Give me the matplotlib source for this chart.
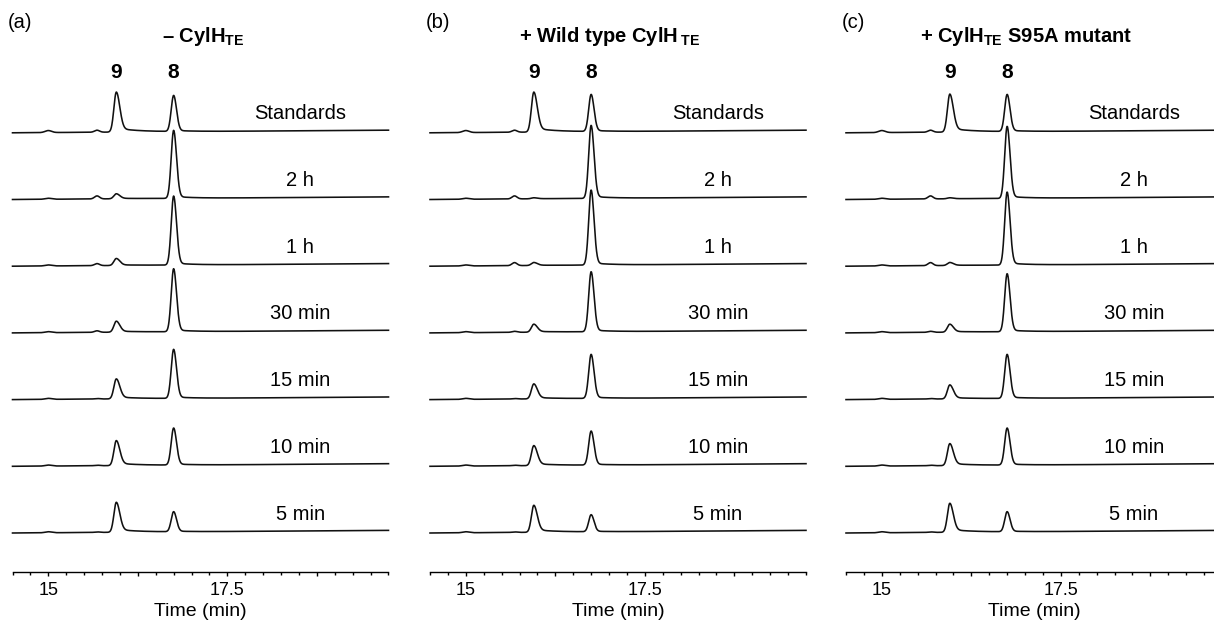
import numpy as np
import matplotlib
matplotlib.use('Agg')
from matplotlib import pyplot as plt
from matplotlib import ticker

plt.rcParams['font.family'] = ['Liberation Sans', 'DejaVu Sans']
plt.rcParams['mathtext.fontset'] = 'custom'
plt.rcParams['mathtext.rm'] = 'Liberation Sans'
plt.rcParams['mathtext.bf'] = 'Liberation Sans:bold'

# trace labels, top to bottom
trace_labels = ['Standards', '2 h', '1 h', '30 min', '15 min', '10 min', '5 min']
panel_tags = ['(a)', '(b)', '(c)']
panel_titles = [r'– CylH$_{\mathbf{TE}}$',
                r'+ Wild type CylH$\,_{\mathbf{TE}}$',
                r'+ CylH$_{\mathbf{TE}}$ S95A mutant']

# retention times (min)
rt_9 = 15.95
rt_8 = 16.75
rt_minor_a = 15.0
rt_minor_b = 15.68

# peak heights (arbitrary units), top trace first
height_9 = [
    [40, 5, 7, 11, 20, 25, 30],
    [40, 1, 3, 8, 15, 20, 27],
    [38, 1, 3, 8, 14, 22, 29],
]
height_8 = [
    [36, 68, 69, 63, 49, 37, 20],
    [37, 73, 75, 60, 44, 34, 17],
    [37, 72, 73, 58, 44, 37, 20],
]
height_minor_a = [
    [2, 1, 1, 1, 1, 1, 1],
    [2, 1, 1, 1, 1, 1, 1],
    [2, 1, 1, 1, 1, 1, 1],
]
height_minor_b = [
    [2, 3, 2, 1.5, 0.5, 0.5, 0.5],
    [2, 3, 3, 1, 0.5, 0.5, 0.5],
    [2, 3, 3, 1, 0.5, 0.5, 0.5],
]

x_min, x_max = 14.5, 19.75


def peak(x, t, h, s_left, s_right, tail_frac, tau):
    """
    Asymmetric chromatographic peak with a small exponential tail.
    """
    d = x - t
    left = np.exp(-0.5 * (d / s_left) ** 2)
    right = ((1 - tail_frac) * np.exp(-0.5 * (d / s_right) ** 2)
             + tail_frac * np.exp(-np.clip(d, 0, None) / tau))
    return h * np.where(d < 0, left, right)


def build_trace(x, p, i):
    y = peak(x, rt_9, height_9[p][i], 0.034, 0.048, 0.1, 0.3)
    y += peak(x, rt_8, height_8[p][i], 0.034, 0.04, 0.03, 0.25)
    y += peak(x, rt_minor_a, height_minor_a[p][i], 0.045, 0.045, 0.0, 1.0)
    y += peak(x, rt_minor_b, height_minor_b[p][i], 0.035, 0.035, 0.0, 1.0)
    y += 0.5 * (x - x_min)
    return y


fig = plt.figure(figsize=(12.14, 6.23), dpi=100)
W, H = 1214.0, 623.0
axis_px = 572.0
panel_left_px = [12.5, 430.0, 846.0]
panel_width_px = 376.0
step = 66.7
bottom_base = 39.0

x = np.linspace(x_min, x_max, 1500)

for p in range(3):
    ax = fig.add_axes([panel_left_px[p] / W, (H - axis_px) / H,
                       panel_width_px / W, axis_px / H])
    ax.set_xlim(x_min, x_max)
    ax.set_ylim(0, axis_px)
    n = len(trace_labels)
    for i, label in enumerate(trace_labels):
        offset = bottom_base + step * (n - 1 - i)
        ax.plot(x, build_trace(x, p, i) + offset, color='#111111', lw=1.15,
                solid_joinstyle='round', clip_on=False)
        ax.text(18.52, offset + 19, label, ha='center', va='center', fontsize=14.5)
    ax.text(rt_9, 499, '9', ha='center', va='center', fontsize=15, weight='bold')
    ax.text(rt_8, 499, '8', ha='center', va='center', fontsize=15, weight='bold')
    ax.text(14.44, 550, panel_tags[p], ha='left', va='center', fontsize=14.5, clip_on=False)
    title_x = 17.16 if p == 0 else 17.01
    ax.text(title_x, 535, panel_titles[p], ha='center', va='center', fontsize=14.5,
            weight='bold', clip_on=False)

    for side in ('left', 'right', 'top'):
        ax.spines[side].set_visible(False)
    ax.spines['bottom'].set_linewidth(1.0)
    ax.set_yticks([])
    ax.xaxis.set_major_locator(ticker.MultipleLocator(1.25))
    ax.xaxis.set_minor_locator(ticker.MultipleLocator(0.25))
    ax.xaxis.set_major_formatter(ticker.FuncFormatter(
        lambda v, pos: {15.0: '15', 17.5: '17.5'}.get(round(v, 2), '')))
    ax.tick_params(axis='x', which='major', length=3, width=1.0, pad=4, labelsize=13)
    ax.tick_params(axis='x', which='minor', length=2, width=1.0)
    ax.set_xlabel('Time (min)', fontsize=14, labelpad=3)

fig.savefig('out.png', dpi=100)
